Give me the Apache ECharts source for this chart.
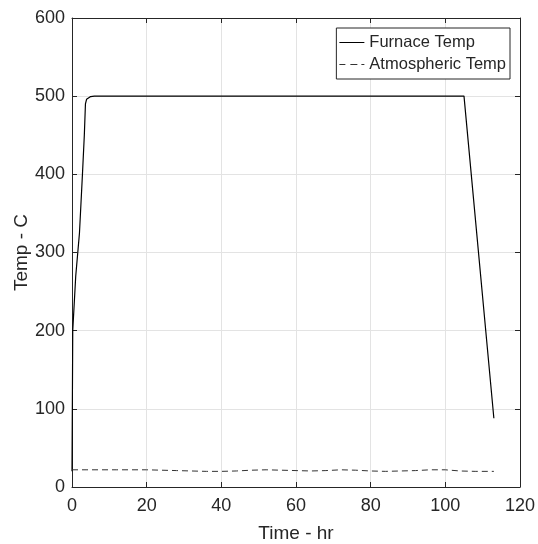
<!DOCTYPE html>
<html>
<head>
<meta charset="utf-8">
<script src="https://cdn.jsdelivr.net/npm/echarts@6/dist/echarts.min.js"></script>
<style>
  html, body { margin: 0; padding: 0; background: #fff; }
  #chart { width: 538px; height: 544px; }
</style>
</head>
<body>
<div id="chart"></div>
<script>
// 炉温曲线 (时间 hr, 温度 C)
const furnaceTime = [0, 0.2, 1.0, 2.0, 2.8, 3.3, 3.6, 3.9, 4.4, 5.0, 6.0, 105, 113];
const furnaceTemp = [20, 200, 270, 325, 400, 450, 490, 496, 498.5, 499.5, 500, 500, 88];

// 大气温度曲线
const atmosTime = [0, 4, 8, 12, 16, 20, 24, 28, 32, 36, 40, 44, 48, 52, 56, 60, 64, 68, 72, 76, 80, 84, 88, 92, 96, 100, 104, 108, 113];
const atmosTemp = [22, 22, 22, 22, 22, 22, 21.5, 21, 20.5, 20, 20, 20.5, 21.5, 22, 21.5, 21, 20.5, 21, 22, 21.5, 20.5, 20, 20.5, 21, 22, 22, 20.5, 20, 20];

const font = 'Liberation Sans, Arial, sans-serif';
const textColor = '#262626';

function pairs(xs, ys) {
    return xs.map((x, i) => [x, ys[i]]);
}

// 每个轴用独立的对象
function axisLine() {
    return { show: true, onZero: false, lineStyle: { color: '#262626', width: 1 } };
}
function axisTick() {
    return { show: true, inside: true, length: 5, lineStyle: { color: '#262626', width: 1 } };
}

const myChart = echarts.init(document.getElementById('chart'));

const option = {
    animation: false,
    backgroundColor: '#fff',
    grid: { left: 72, right: 18, top: 18, bottom: 57, containLabel: false, outerBoundsMode: 'none' },
    legend: {
        orient: 'vertical',
        right: 28,
        top: 28,
        itemWidth: 25,
        itemHeight: 1,
        itemGap: 5,
        padding: [6, 4, 6, 3],
        borderColor: '#262626',
        borderWidth: 1,
        borderRadius: 0,
        backgroundColor: '#fff',
        textStyle: { fontFamily: font, fontSize: 16.5, lineHeight: 16, color: textColor },
        data: [
            { name: 'Furnace Temp', icon: 'path://M0,0h25v1h-25z' },
            { name: 'Atmospheric Temp', icon: 'path://M0,0h6v1h-6z M11,0h7v1h-7z M22,0h3v1h-3z' }
        ]
    },
    xAxis: [{
        type: 'value',
        min: 0, max: 120, interval: 20,
        name: 'Time - hr',
        nameLocation: 'middle',
        nameGap: 37,
        nameMoveOverlap: false,
        nameTextStyle: { fontFamily: font, fontSize: 19, color: textColor },
        axisLine: axisLine(),
        axisTick: axisTick(),
        axisLabel: { fontFamily: font, fontSize: 18, color: textColor, margin: 10 },
        splitLine: { show: true, lineStyle: { color: '#e3e3e3', width: 1 } }
    }, {
        type: 'value',
        position: 'top',
        min: 0, max: 120, interval: 20,
        axisLine: axisLine(),
        axisTick: axisTick(),
        axisLabel: { show: false },
        splitLine: { show: false }
    }],
    yAxis: [{
        type: 'value',
        min: 0, max: 600, interval: 100,
        name: 'Temp - C',
        nameLocation: 'middle',
        nameGap: 41,
        nameMoveOverlap: false,
        nameTextStyle: { fontFamily: font, fontSize: 19, color: textColor },
        axisLine: axisLine(),
        axisTick: axisTick(),
        axisLabel: { fontFamily: font, fontSize: 18, color: textColor, margin: 7 },
        splitLine: { show: true, lineStyle: { color: '#e3e3e3', width: 1 } }
    }, {
        type: 'value',
        position: 'right',
        min: 0, max: 600, interval: 100,
        axisLine: axisLine(),
        axisTick: axisTick(),
        axisLabel: { show: false },
        splitLine: { show: false }
    }],
    series: [{
        name: 'Furnace Temp',
        type: 'line',
        data: pairs(furnaceTime, furnaceTemp),
        showSymbol: false,
        symbol: 'none',
        lineStyle: { color: '#000', width: 1.2 },
        itemStyle: { color: '#000' }
    }, {
        name: 'Atmospheric Temp',
        type: 'line',
        data: pairs(atmosTime, atmosTemp),
        showSymbol: false,
        symbol: 'none',
        lineStyle: { color: '#333', width: 1, type: [6, 4] },
        itemStyle: { color: '#333' }
    }]
};

myChart.setOption(option);
</script>
</body>
</html>
